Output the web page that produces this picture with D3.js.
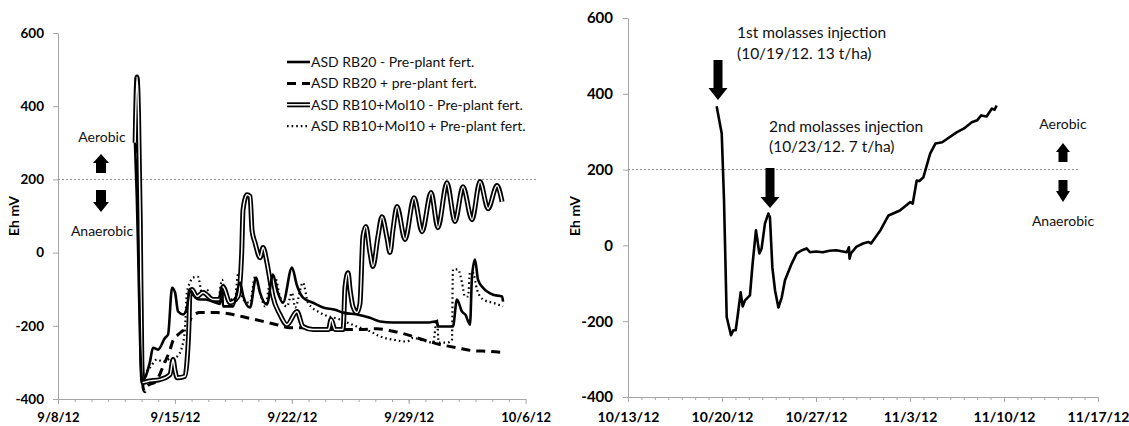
<!DOCTYPE html>
<html>
<head>
<meta charset="UTF-8">
<script src="https://d3js.org/d3.v7.min.js"></script>
<style>
  body { margin: 0; background: #fff; }
  svg text { font-family: Lato, "Liberation Sans", sans-serif; }
</style>
</head>
<body>
<svg id="chart" width="1129" height="426"></svg>
<script>
// ---- data: [days after panel start, Eh mV] ----
const leftStart = "2012-09-08";
const leftTicks = ["2012-09-08", "2012-09-15", "2012-09-22", "2012-09-29", "2012-10-06"];
const rightStart = "2012-10-13";
const rightTicks = ["2012-10-13", "2012-10-20", "2012-10-27", "2012-11-03", "2012-11-10", "2012-11-17"];
const yTicks = [-400, -200, 0, 200, 400, 600];

const legendNames = [
  "ASD RB20 - Pre-plant fert.",
  "ASD RB20 + pre-plant fert.",
  "ASD RB10+Mol10 - Pre-plant fert.",
  "ASD RB10+Mol10 + Pre-plant fert."
];

const rb20Minus = [[4.61,300],[4.66,230],[4.72,150],[4.8,0],[4.92,-250],[5.05,-350],[5.21,-342],[5.5,-300],[5.69,-260],[5.99,-265],[6.41,-233],[6.59,-224],[6.83,-96],[7.01,-109],[7.19,-161],[7.49,-169],[7.72,-150],[7.9,-101],[8.08,-115],[8.5,-128],[8.8,-128],[9.28,-134],[9.7,-140],[9.82,-96],[9.88,-147],[10.48,-147],[10.9,-82],[11.1,-120],[11.5,-150],[11.86,-68],[12.1,-110],[12.51,-142],[12.87,-60],[13.17,-110],[13.47,-137],[14.01,-41],[14.31,-90],[14.67,-123],[15.27,-137],[15.87,-150],[16.59,-156],[17.07,-164],[17.9,-169],[18.68,-178],[19.28,-188],[20.06,-191],[20.9,-191],[21.5,-191],[22.1,-191],[22.69,-188],[22.75,-202],[23.65,-202],[23.89,-128],[24.19,-161],[24.4,-170],[24.67,-197],[24.79,-66],[24.97,-19],[25.15,-74],[25.45,-96],[26.05,-115],[26.59,-120],[26.65,-134]];

const rb20Plus = [[4.68,420],[4.8,200],[4.92,-100],[5.1,-370],[5.21,-380],[5.33,-366],[5.9,-350],[6.29,-311],[6.71,-265],[6.89,-240],[7.19,-224],[7.43,-215],[7.72,-205],[8.02,-175],[8.5,-164],[9.52,-164],[10.48,-169],[11.32,-178],[12.28,-188],[13.11,-197],[13.89,-205],[14.67,-205],[15.27,-210],[16.29,-210],[17.31,-210],[18.08,-210],[19.1,-208],[20.06,-215],[20.9,-224],[21.86,-238],[22.87,-251],[23.89,-260],[24.85,-268],[25.87,-270],[26.65,-273]];

const molMinus = [[4.62,300],[4.73,480],[4.82,380],[4.92,100],[5.02,-300],[5.09,-355],[5.33,-352],[6.11,-347],[6.71,-333],[6.89,-292],[7.0,-320],[7.13,-342],[7.6,-338],[7.72,-300],[7.84,-200],[7.9,-106],[8.02,-101],[8.32,-120],[8.68,-109],[9.28,-128],[9.7,-128],[9.88,-93],[10.3,-137],[10.78,-120],[11.0,0],[11.08,117],[11.32,158],[11.5,154],[11.62,60],[11.8,27],[12.1,-14],[12.28,14],[12.51,-27],[12.69,-74],[12.87,-120],[13.29,-169],[13.71,-197],[14.31,-161],[14.67,-202],[15.27,-210],[16.2,-210],[16.35,-183],[16.59,-210],[17.07,-210],[17.19,-93],[17.37,-55],[17.49,-101],[17.66,-147],[17.9,-164],[18.08,-140],[18.26,44],[18.44,71],[18.68,0],[18.86,-38],[19.16,44],[19.4,98],[19.7,40],[19.88,0],[20.06,63],[20.3,126],[20.78,36],[21.32,150],[21.8,57],[22.34,164],[22.75,68],[23.29,191],[23.77,85],[24.25,180],[24.79,90],[25.27,194],[25.75,120],[26.29,183],[26.59,139]];

const molPlus = [[4.7,400],[4.8,250],[4.92,0],[5.09,-330],[5.21,-328],[5.51,-314],[5.93,-292],[6.29,-298],[6.71,-290],[7.13,-284],[7.43,-257],[7.6,-210],[7.72,-109],[7.9,-82],[8.08,-68],[8.38,-66],[8.62,-109],[8.92,-101],[9.22,-134],[9.58,-134],[9.82,-74],[10.0,-110],[10.3,-128],[10.6,-128],[10.78,-60],[11.08,-128],[11.5,-137],[11.8,-66],[12.1,-110],[12.4,-147],[12.69,-82],[12.99,-66],[13.29,-120],[13.71,-147],[14.01,-110],[14.2,-150],[14.67,-82],[14.97,-137],[15.69,-164],[16.89,-183],[17.9,-202],[18.68,-215],[19.28,-229],[20.06,-238],[20.9,-243],[21.26,-233],[21.86,-240],[22.46,-246],[22.69,-183],[22.8,-246],[23.29,-246],[23.59,-240],[23.65,-46],[23.95,-46],[24.19,-82],[24.37,-120],[24.55,-120],[24.67,-55],[24.85,-55],[25.09,-101],[25.45,-128],[26.05,-137],[26.65,-147]];

const molasses = [[6.6,367],[6.98,295],[7.15,119],[7.35,-189],[7.67,-237],[7.84,-224],[8.02,-224],[8.17,-185],[8.39,-124],[8.54,-161],[8.71,-145],[9.08,-132],[9.28,-48],[9.53,40],[9.78,-21],[9.95,-8],[10.2,58],[10.45,84],[10.57,74],[10.75,-58],[10.95,-119],[11.2,-164],[11.45,-137],[11.69,-92],[12.19,-48],[12.56,-21],[13.0,-12],[13.3,-8],[13.55,-18],[14.0,-16],[14.5,-18],[15.0,-14],[15.5,-13],[16.0,-16],[16.3,-18],[16.45,-5],[16.5,-35],[16.6,-21],[17.0,-4],[17.5,5],[17.9,9],[18.1,5],[18.8,40],[19.4,79],[20.25,92],[21.0,114],[21.2,110],[21.5,171],[21.7,170],[22.0,180],[22.5,242],[22.9,269],[23.4,272],[23.8,282],[24.5,299],[25.0,308],[25.6,325],[26.0,330],[26.3,343],[26.7,340],[27.1,361],[27.3,358],[27.45,369]];

// ---- setup ----
const svg = d3.select("#chart");
const parse = d3.utcParse("%Y-%m-%d");
const fmt = d3.utcFormat("%-m/%-d/%y");
const DAY = 864e5;
const gray = "#a6a6a6";

function toDate(start, d) { return new Date(+parse(start) + d * DAY); }

function makePanel(o) {
  let x = d3.scaleUtc()
    .domain([parse(o.ticks[0]), parse(o.ticks[o.ticks.length - 1])])
    .range([o.left, o.right]);
  let y = d3.scaleLinear().domain([-400, 600]).range([o.bottom, o.top]);

  // daily minor ticks
  svg.append("g")
    .attr("transform", `translate(0,${o.bottom})`)
    .call(d3.axisBottom(x).tickValues(d3.utcDay.range(x.domain()[0], x.domain()[1])).tickSize(3).tickSizeOuter(0).tickFormat(""))
    .call(g => g.select(".domain").remove())
    .selectAll("line").attr("stroke", gray);

  let xAxis = svg.append("g")
    .attr("transform", `translate(0,${o.bottom})`)
    .call(d3.axisBottom(x).tickValues(o.ticks.map(parse)).tickSize(5).tickSizeOuter(0)
      .tickPadding(o.pad).tickFormat(fmt));
  xAxis.select(".domain").attr("stroke", gray);
  xAxis.selectAll("line").attr("stroke", gray);
  xAxis.selectAll("text").attr("font-size", o.fs).attr("font-weight", "bold").attr("fill", "#000");

  let yAxis = svg.append("g")
    .attr("transform", `translate(${o.left},0)`)
    .call(d3.axisLeft(y).tickValues(yTicks).tickSize(5).tickSizeOuter(0)
      .tickPadding(o.pad).tickFormat(d => String(d)));
  yAxis.select(".domain").attr("stroke", gray);
  yAxis.selectAll("line").attr("stroke", gray);
  yAxis.selectAll("text").attr("font-size", o.fsY).attr("font-weight", "bold").attr("fill", "#000");

  svg.append("text")
    .attr("transform", `translate(${o.labelX},${o.labelY}) rotate(-90)`)
    .attr("text-anchor", "middle")
    .attr("font-size", 14).attr("font-weight", "bold")
    .text("Eh mV");

  // aerobic / anaerobic threshold
  svg.append("line")
    .attr("x1", o.left).attr("x2", o.refEnd)
    .attr("y1", y(200)).attr("y2", y(200))
    .attr("stroke", "#8c8c8c").attr("stroke-width", 1).attr("stroke-dasharray", "2,2");

  return { x, y };
}

function blockArrow(cx, yTail, yTip, shaftW, headW, headH) {
  let dir = yTip > yTail ? 1 : -1;
  let yb = yTip - dir * headH;
  return `M${cx - shaftW / 2},${yTail} L${cx + shaftW / 2},${yTail} L${cx + shaftW / 2},${yb} ` +
    `L${cx + headW / 2},${yb} L${cx},${yTip} L${cx - headW / 2},${yb} L${cx - shaftW / 2},${yb} Z`;
}

function arrow(cx, yTail, yTip, shaftW, headW, headH) {
  svg.append("path").attr("d", blockArrow(cx, yTail, yTip, shaftW, headW, headH)).attr("fill", "#000");
}

function label(x, y, txt, size, anchor) {
  svg.append("text").attr("x", x).attr("y", y).attr("font-size", size)
    .attr("text-anchor", anchor || "start").attr("fill", "#111").text(txt);
}

// ---- left panel ----
const L = makePanel({ ticks: leftTicks, left: 58, right: 525.6, top: 33, bottom: 399,
  pad: 9, fs: 13, fsY: 13.5, labelX: 19, labelY: 216, refEnd: 537 });

const lineL = d3.line()
  .x(d => L.x(toDate(leftStart, d[0])))
  .y(d => L.y(d[1]))
  .curve(d3.curveMonotoneX);

const styles = [
  { data: rb20Minus, stroke: "#000", width: 2.6, dash: null },
  { data: rb20Plus, stroke: "#000", width: 3, dash: "9,6" },
  { data: molMinus, double: true },
  { data: molPlus, stroke: "#000", width: 2.2, dash: "1.6,3" }
];

function drawSeries(g, s, pathD) {
  if (s.double) {
    g.append("path").attr("d", pathD).attr("fill", "none").attr("stroke", "#000").attr("stroke-width", 5).attr("stroke-linejoin", "round");
    g.append("path").attr("d", pathD).attr("fill", "none").attr("stroke", "#fff").attr("stroke-width", 1.5).attr("stroke-linejoin", "round");
  } else {
    g.append("path").attr("d", pathD).attr("fill", "none").attr("stroke", s.stroke)
      .attr("stroke-width", s.width).attr("stroke-dasharray", s.dash).attr("stroke-linejoin", "round");
  }
}

const plotL = svg.append("g");
[1, 3, 2, 0].forEach(i => drawSeries(plotL, styles[i], lineL(styles[i].data)));

// legend
const legend = svg.append("g");
legendNames.forEach((name, i) => {
  let yy = 62 + i * 21.4;
  drawSeries(legend, styles[i], `M287,${yy} L310,${yy}`);
  label(311, yy + 5, name, 14);
});

label(102, 142, "Aerobic", 14, "middle");
label(102, 236, "Anaerobic", 14, "middle");
arrow(101, 173, 154, 10, 16, 9);
arrow(101, 190, 212, 10, 16, 10);

// ---- right panel ----
const R = makePanel({ ticks: rightTicks, left: 628, right: 1098, top: 18, bottom: 397,
  pad: 10, fs: 14, fsY: 15, labelX: 580, labelY: 216, refEnd: 1080 });

const lineR = d3.line()
  .x(d => R.x(toDate(rightStart, d[0])))
  .y(d => R.y(d[1]));

svg.append("path").attr("d", lineR(molasses)).attr("fill", "none")
  .attr("stroke", "#000").attr("stroke-width", 2.6).attr("stroke-linejoin", "round");

label(737, 38, "1st molasses injection", 15.5);
label(737, 59, "(10/19/12. 13 t/ha)", 15.5);
label(769, 132, "2nd molasses injection", 15.5);
label(769, 152, "(10/23/12. 7 t/ha)", 15.5);
arrow(718, 60, 100, 9, 19, 12);
arrow(770, 168, 208, 9, 19, 11);

label(1063, 129, "Aerobic", 14, "middle");
label(1063, 226, "Anaerobic", 14, "middle");
arrow(1063, 162, 143, 9, 14, 9);
arrow(1063, 180, 202, 9, 14, 11);
</script>
</body>
</html>
